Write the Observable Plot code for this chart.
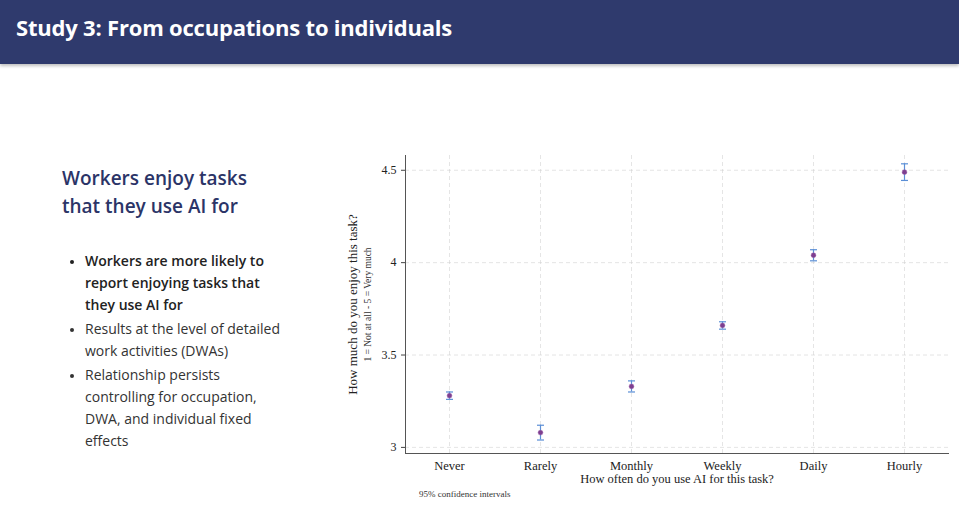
<!DOCTYPE html>
<html>
<head>
<meta charset="utf-8">
<script src="https://cdn.jsdelivr.net/npm/d3@7"></script>
<script src="https://cdn.jsdelivr.net/npm/@observablehq/plot@0.6"></script>
<style>
  body { margin: 0; width: 959px; height: 530px; background: #fff; position: relative; overflow: hidden; font-family: Lato, "Open Sans", sans-serif; }
  #header { position: absolute; left: 0; top: 0; width: 959px; height: 64px; background: #2f3a6d; box-shadow: 0 2px 3px rgba(0,0,0,0.25); }
  #header h1 { margin: 0; position: absolute; left: 16px; top: 12px; color: #fff; font-size: 22px; font-weight: 700; font-family: "Open Sans", sans-serif; letter-spacing: -0.2px; }
  #side { position: absolute; left: 62px; top: 164px; width: 228px; }
  #side h2 { margin: 0; color: #2b3467; font-size: 19px; font-weight: 600; line-height: 28px; font-family: "Open Sans", sans-serif; }
  #side ul { margin: 30px 0 0 0; padding: 0 0 0 23px; color: #333; font-size: 14px; line-height: 22px; font-family: "Open Sans", sans-serif; }
  #side li { margin-bottom: 2px; }
  #side li::marker { font-size: 11px; }
  #side li.b { font-weight: 600; color: #222; }
  #chart { position: absolute; left: 340px; top: 150px; }
  #note { position: absolute; left: 419px; top: 489px; font-family: "Liberation Serif", serif; font-size: 9px; color: #333; }
</style>
</head>
<body>
<div id="header"><h1>Study 3: From occupations to individuals</h1></div>
<div id="side">
  <h2>Workers enjoy tasks<br>that they use AI for</h2>
  <ul>
    <li class="b">Workers are more likely to report enjoying tasks that they use AI for</li>
    <li>Results at the level of detailed work activities (DWAs)</li>
    <li>Relationship persists controlling for occupation, DWA, and individual fixed effects</li>
  </ul>
</div>
<div id="chart"></div>
<div id="note">95% confidence intervals</div>
<script>
const freq = ["Never", "Rarely", "Monthly", "Weekly", "Daily", "Hourly"];
const enjoy = [3.28, 3.08, 3.33, 3.66, 4.04, 4.49];
const ciLow = [3.26, 3.04, 3.30, 3.64, 4.01, 4.445];
const ciHigh = [3.30, 3.12, 3.36, 3.68, 4.07, 4.535];
const yTicks = [3, 3.5, 4, 4.5];

const rows = freq.map((f, i) => ({f, y: enjoy[i], lo: ciLow[i], hi: ciHigh[i]}));
const cap = {draw(ctx, size) { const w = 3.5; ctx.moveTo(-w, 0); ctx.lineTo(w, 0); }};
const serif = "Liberation Serif, DejaVu Serif, serif";

const chart = Plot.plot({
  width: 613,
  height: 343,
  marginLeft: 65,
  marginRight: 5,
  marginTop: 5,
  marginBottom: 40,
  style: {fontFamily: serif, fontSize: "12px", color: "#222"},
  x: {type: "point", domain: freq, padding: 0.48, label: null},
  y: {domain: [2.967, 4.58], label: null},
  marks: [
    Plot.gridY(yTicks, {stroke: "#ccc", strokeOpacity: 0.5, strokeDasharray: "4,3"}),
    Plot.gridX(freq, {stroke: "#ccc", strokeOpacity: 0.5, strokeDasharray: "4,3"}),
    Plot.axisY(yTicks, {tickFormat: d => String(d), tickSize: 4, stroke: "#444", fontSize: 12}),
    Plot.axisX({tickSize: 0, tickPadding: 8, fontSize: 12.5}),
    Plot.frame({anchor: "left", stroke: "#555"}),
    Plot.frame({anchor: "bottom", stroke: "#555"}),
    Plot.ruleX(rows, {x: "f", y1: "lo", y2: "hi", stroke: "#5b8fd6", strokeWidth: 1.2}),
    Plot.dot(rows, {x: "f", y: "lo", symbol: cap, stroke: "#5b8fd6", strokeWidth: 1.2}),
    Plot.dot(rows, {x: "f", y: "hi", symbol: cap, stroke: "#5b8fd6", strokeWidth: 1.2}),
    Plot.dot(rows, {x: "f", y: "y", r: 2.4, fill: "#7d3f8f", stroke: "#9a5aa8", strokeWidth: 0.5}),
    Plot.text(["How much do you enjoy this task?"], {frameAnchor: "left", textAnchor: "middle", dx: -53, rotate: -90, fontSize: 13, fill: "#222"}),
    Plot.text(["1 = Not at all - 5 = Very much"], {frameAnchor: "left", textAnchor: "middle", dx: -38, rotate: -90, fontSize: 9.5, fill: "#333"}),
    Plot.text(["How often do you use AI for this task?"], {frameAnchor: "bottom", lineAnchor: "top", dy: 21, fontSize: 12.5, fill: "#222"})
  ]
});

d3.select("#chart").append(() => chart);
</script>
</body>
</html>
